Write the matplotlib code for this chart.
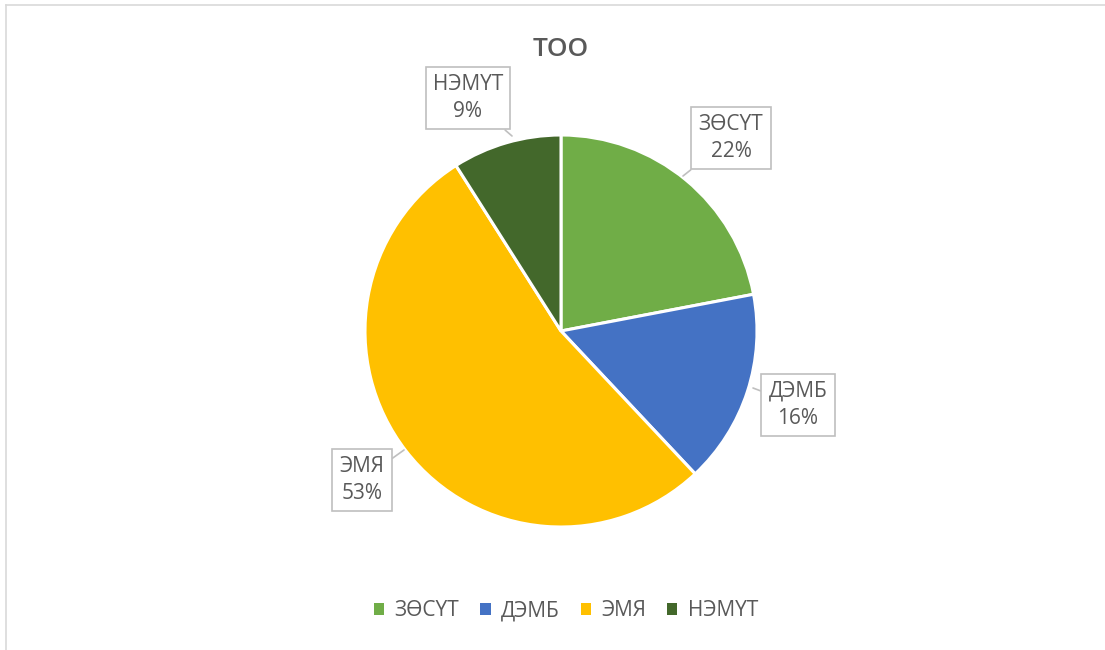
import matplotlib.pyplot as plt
from matplotlib.lines import Line2D
from matplotlib.patches import Patch

# Өгөгдөл
ангилал = ['ЗӨСҮТ', 'ДЭМБ', 'ЭМЯ', 'НЭМҮТ']
хувь = [22, 16, 53, 9]
өнгө = ['#70AD47', '#4472C4', '#FFC000', '#43682B']
гарчиг = 'ТОО'

# шошгоны хайрцгийн байрлал (пиксел, дээрээс) ба заагч цэг
шошго_байрлал = [(731, 138), (798, 405), (362, 480), (468, 98)]
заагч = [(683, 176), (753, 388), (404, 450), (512, 136)]

plt.rcParams['font.family'] = ['Open Sans', 'DejaVu Sans']
текст_өнгө = '#595959'

fig = plt.figure(figsize=(11.05, 6.5), dpi=100)
ax = fig.add_axes([0, 0, 1, 1])

# хүрээ (дээд ба зүүн)
ax.add_line(Line2D([6, 1105], [4.5, 4.5], color='#D9D9D9', lw=1.2))
ax.add_line(Line2D([6, 6], [4.5, 650], color='#D9D9D9', lw=1.2))

# y тэнхлэг урвуу тул counterclock=True нь харагдахдаа цагийн зүүний дагуу
ax.pie(хувь, colors=өнгө, startangle=-90, counterclock=True,
       center=(561, 331), radius=196,
       wedgeprops=dict(edgecolor='white', linewidth=2.2), frame=True)
ax.set_xlim(0, 1105)
ax.set_ylim(650, 0)
ax.set_aspect('equal')
ax.axis('off')

for нэр, утга, (bx, by), (px, py) in zip(ангилал, хувь, шошго_байрлал, заагч):
    ax.annotate(f'{нэр}\n{утга}%', xy=(px, py), xytext=(bx, by),
                ha='center', va='center', fontsize=15, color=текст_өнгө,
                linespacing=1.4,
                bbox=dict(boxstyle='square,pad=0.35', fc='white', ec='#BFBFBF', lw=1.2),
                arrowprops=dict(arrowstyle='-', color='#BFBFBF', lw=1.2,
                                shrinkA=0, shrinkB=0))

ax.text(561, 50, гарчиг, ha='center', va='center', fontsize=19,
        color=текст_өнгө, fontweight='semibold')

handles = [Patch(facecolor=c, edgecolor='none') for c in өнгө]
fig.legend(handles, ангилал, loc='center', bbox_to_anchor=(566 / 1105, 1 - 611 / 650),
           ncol=4, frameon=False, fontsize=15, labelcolor=текст_өнгө,
           handlelength=0.5, handleheight=0.5, handletextpad=0.5, columnspacing=1.0)

fig.savefig('out.png', dpi=100, facecolor='white')
